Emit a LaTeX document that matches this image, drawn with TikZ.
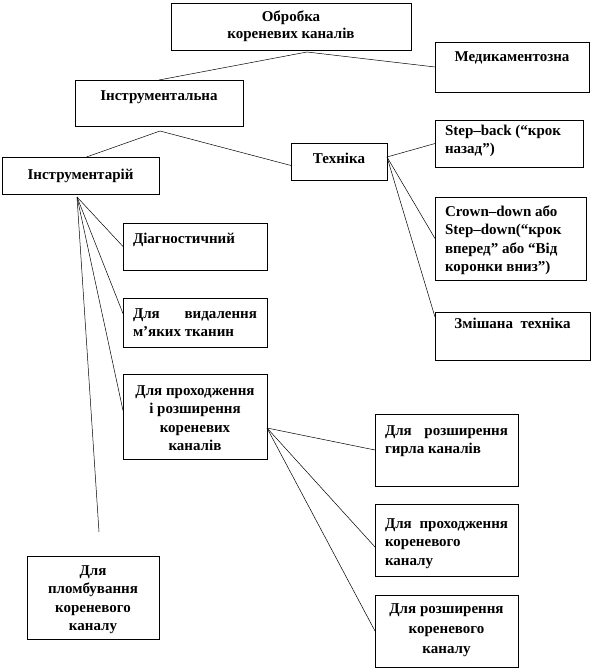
\documentclass[tikz,border=0pt]{standalone}
\usepackage{fontspec}
\setmainfont{Liberation Serif}
\begin{document}
\begin{tikzpicture}[x=1pt,y=-1pt,
  boxst/.style={draw=black,line width=0.6pt,inner sep=0pt,outer sep=0pt,fill=white},
  txt/.style={inner sep=0pt,outer sep=0pt,font=\fontsize{15}{18.5}\selectfont\bfseries},
  conn/.style={draw=black,line width=0.5pt}]
\useasboundingbox (0,0) rectangle (594,669);
\newcommand{\bx}[8]{%
  \node[boxst, minimum width={(#4-#2)*1pt}, minimum height={(#5-#3)*1pt}, anchor=north west] (#1) at (#2,#3) {};
  \pgfmathsetlengthmacro{\tw}{(#4-#2-20)*1pt}%
  \node[txt, anchor=base west] (#1-t) at ({#2+10},{#3+#6}) {\begin{minipage}[t]{\tw}#7 #8\end{minipage}};
}
\bx{ob}{171}{3}{411}{50}{19}{\centering\baselineskip=17pt}{Обробка\\кореневих каналів}
\bx{med}{435}{42}{589}{92}{20}{\centering}{Медикаментозна}
\bx{instr}{75}{80}{243}{126}{20}{\centering}{Інструментальна}
\bx{tools}{2}{157}{159}{194}{22}{\centering}{Інструментарій}
\bx{tech}{291}{143}{387}{180}{20}{\centering}{Техніка}
\bx{sb}{435}{120}{583}{167}{15}{\raggedright}{Step–back (“крок\\назад”)}
\bx{cd}{435}{197}{586}{280}{19}{\raggedright}{Crown–down або\\Step–down(“крок\\вперед” або “Від\\коронки вниз”)}
\bx{mix}{435}{312}{590}{360}{16}{\centering}{Змішана\ \ техніка}
\bx{diag}{123}{223}{267}{270}{20}{\raggedright}{Діагностичний}
\bx{vid}{123}{298}{267}{347}{20}{}{Для\hfill видалення\\м’яких тканин}
\bx{prh}{123}{374}{267}{459}{21}{\centering}{Для проходження\\і розширення\\кореневих\\каналів}
\bx{gyr}{375}{414}{518}{486}{21}{}{Для\hfill розширення\\гирла каналів}
\bx{kor}{375}{504}{518}{576}{24}{}{Для\hfill проходження\\кореневого\\каналу}
\bx{roz}{375}{595}{518}{667}{18}{\centering\baselineskip=20pt}{Для розширення\\кореневого\\каналу}
\bx{plo}{27}{556}{159}{639}{19}{\centering}{Для\\пломбування\\кореневого\\каналу}
\coordinate (o1) at (307,52);
\draw[conn] (o1) -- (instr.north);
\draw[conn] (o1) -- (med.west);
\coordinate (i1) at (160,131);
\draw[conn] (i1) -- ([xshift=6pt]tools.north);
\draw[conn] (i1) -- ([yshift=-4pt]tech.west);
\coordinate (t1) at (387,157);
\draw[conn] (t1) -- (sb.west);
\draw[conn] (t1) -- (cd.west);
\draw[conn] (t1) -- ([yshift=-5pt]mix.north west);
\coordinate (k1) at (77,197);
\coordinate (k2) at (99,532);
\draw[conn] (k1) -- (diag.west);
\draw[conn] (k1) -- ([yshift=9pt]vid.west);
\draw[conn] (k1) -- ([yshift=6pt]prh.west);
\draw[conn] (k1) -- (k2);
\coordinate (p1) at (267,428);
\draw[conn] (p1) -- (gyr.west);
\draw[conn] (p1) -- ([yshift=-7pt]kor.west);
\draw[conn] (p1) -- (roz.west);
\end{tikzpicture}
\end{document}
